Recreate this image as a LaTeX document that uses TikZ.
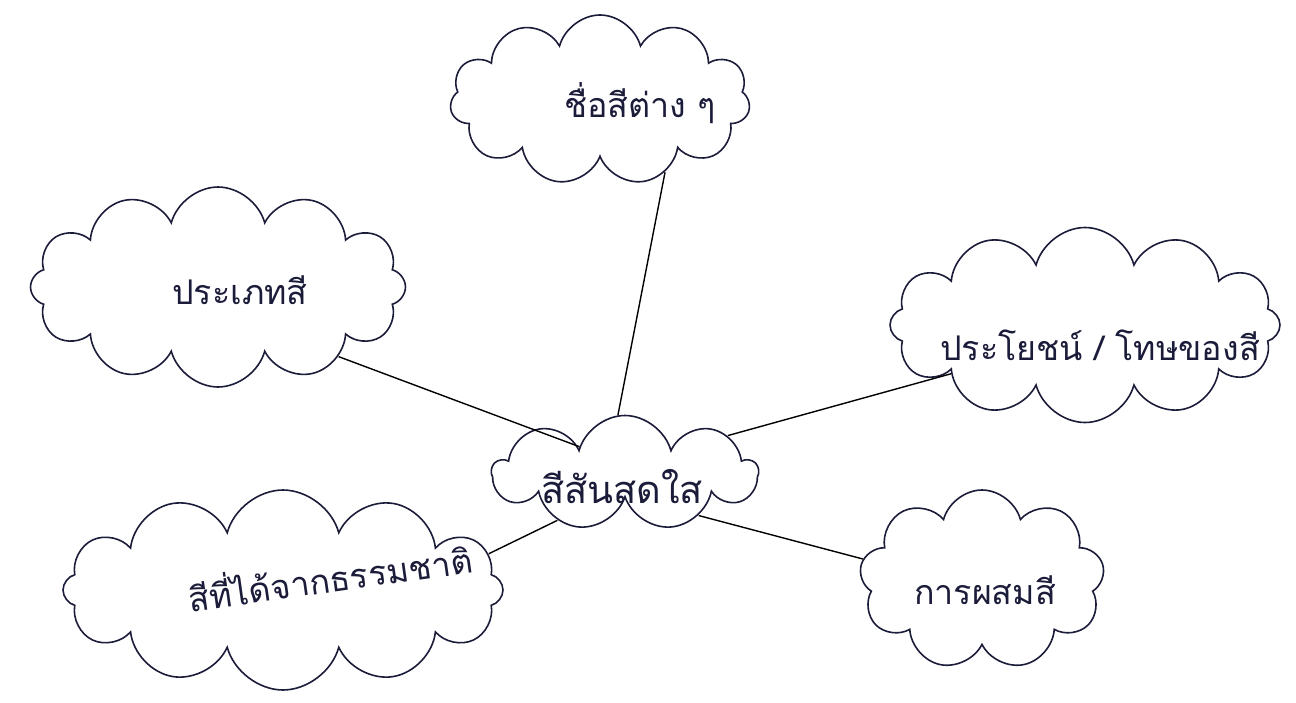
\documentclass[tikz,border=0pt]{standalone}
\usepackage{fontspec}
\newfontfamily\thaifont[Script=Thai]{Loma}
\usetikzlibrary{shapes.symbols}
\definecolor{ink}{HTML}{1B1B3A}
\tikzset{
  bubble/.style={cloud, cloud puffs=#1, cloud ignores aspect, draw=ink, line width=1.6pt},
  bubble/.default=11,
  word/.style={font=\thaifont\fontsize{34}{38}\selectfont, text=ink, inner sep=0pt},
  link/.style={draw=black, line width=1.4pt}
}
\begin{document}
\begin{tikzpicture}[x=1pt,y=-1pt]
\useasboundingbox[fill=white] (0,0) rectangle (1296,702);
\node[bubble=11, minimum width=300pt, minimum height=170pt] (top) at (600,100) {};
\node[bubble=12, minimum width=375pt, minimum height=200pt] (ptype) at (218,287) {};
\node[bubble=12, minimum width=390pt, minimum height=195pt] (use) at (1085,325) {};
\node[bubble=9, minimum width=265pt, minimum height=115pt] (ctr) at (625,473) {};
\node[bubble=12, minimum width=440pt, minimum height=200pt] (nat) at (283,590) {};
\node[bubble=9, minimum width=245pt, minimum height=180pt] (mix) at (982,580) {};
\node[word] (topT) at (640,103) {ชื่อสีต่าง ๆ};
\node[word] (ptypeT) at (240,290) {ประเภทสี};
\node[word] (useT) at (1100,345) {ประโยชน์ / โทษของสี};
\node[word, font=\thaifont\fontsize{38}{42}\selectfont] (ctrT) at (622,487) {สีสันสดใส};
\node[word, rotate=8] (natT) at (330,575) {สีที่ได้จากธรรมชาติ};
\node[word] (mixT) at (985,590) {การผสมสี};
\draw[link] (top.312) -- (ctr.97);
\draw[link] (ptype.330) -- (ctr.150);
\draw[link] (use.200) -- (ctr.20);
\draw[link] (nat.10) -- (ctr.215);
\draw[link] (mix.170) -- (ctr.330);
\end{tikzpicture}
\end{document}
